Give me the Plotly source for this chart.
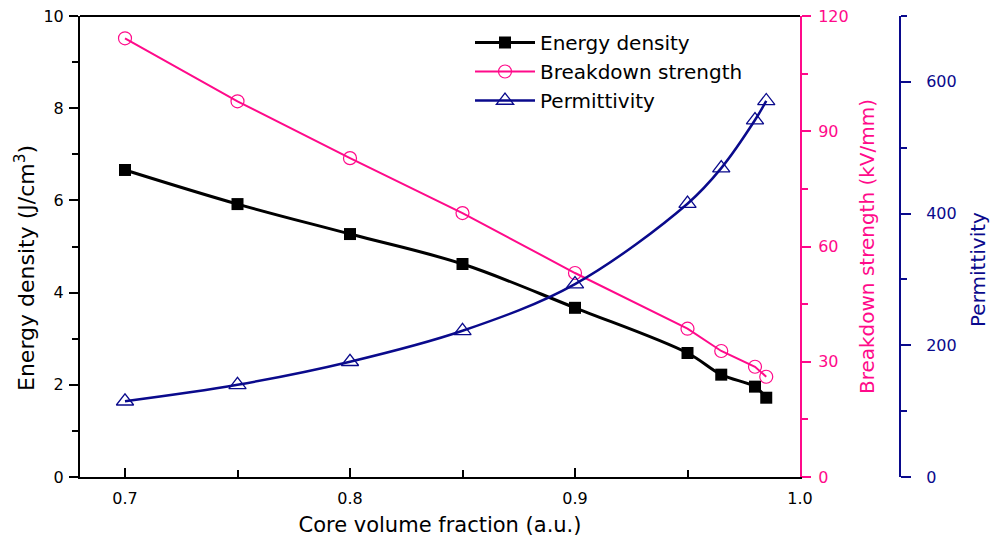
import plotly.graph_objects as go

# Data
core_fraction = [0.7, 0.75, 0.8, 0.85, 0.9, 0.95, 0.965, 0.98, 0.985]
energy_density = [6.66, 5.92, 5.27, 4.62, 3.67, 2.69, 2.22, 1.96, 1.72]
breakdown_strength = [114.2, 97.8, 83.0, 68.7, 53.1, 38.6, 32.8, 28.7, 26.1]
permittivity = [115, 140, 175, 222, 293, 415, 469, 542, 571]

x_ticks = [0.7, 0.8, 0.9, 1.0]
x_ticklabels = ["0.7", "0.8", "0.9", "1.0"]

PINK = "#FF0A8A"
NAVY = "#0A0A8C"
FONT = "DejaVu Sans"

W, H = 994, 552
ML, MR, MT, MB = 80, 94, 16, 75
PW = W - ML - MR
PH = H - MT - MB


def px_to_paper_x(px):
    return (px - ML) / PW


def px_to_paper_y(py):
    return (H - MB - py) / PH


fig = go.Figure()

fig.add_trace(go.Scatter(
    x=core_fraction, y=energy_density, name="Energy density",
    mode="lines+markers", line=dict(color="black", width=3, shape="spline"),
    marker=dict(symbol="square", size=12, color="black"),
    yaxis="y"))

fig.add_trace(go.Scatter(
    x=core_fraction, y=breakdown_strength, name="Breakdown strength",
    mode="lines+markers", line=dict(color=PINK, width=2),
    marker=dict(symbol="circle-open", size=13, color=PINK, line=dict(width=1.2)),
    yaxis="y2"))

fig.add_trace(go.Scatter(
    x=core_fraction, y=permittivity, name="Permittivity",
    mode="lines+markers", line=dict(color=NAVY, width=2.5, shape="spline"),
    marker=dict(symbol="triangle-up-open", size=15, color=NAVY, line=dict(width=1.3)),
    yaxis="y3"))

fig.update_layout(
    width=W, height=H,
    margin=dict(l=ML, r=MR, t=MT, b=MB, autoexpand=False),
    paper_bgcolor="white", plot_bgcolor="white",
    font=dict(family=FONT, size=16, color="black"),
    showlegend=True,
    legend=dict(x=px_to_paper_x(470), y=px_to_paper_y(23), xanchor="left", yanchor="top",
                font=dict(size=20, family=FONT), bgcolor="rgba(0,0,0,0)",
                tracegroupgap=0, itemwidth=60),
    xaxis=dict(
        domain=[0, 720 / PW], range=[0.68, 1.0],
        tickvals=x_ticks, ticktext=x_ticklabels,
        ticks="inside", ticklen=9, tickwidth=1.5, tickcolor="black",
        minor=dict(dtick=0.05, tick0=0.7, ticks="inside", ticklen=7, tickwidth=1.5, tickcolor="black"),
        showline=True, linecolor="black", linewidth=2, mirror=False,
        showgrid=False, zeroline=False,
        ticklabelstandoff=6,
        title=dict(text="Core volume fraction (a.u.)", font=dict(size=21), standoff=10),
    ),
    yaxis=dict(
        range=[0, 10], dtick=2, tick0=0,
        ticks="outside", ticklen=9, tickwidth=1.5, tickcolor="black",
        minor=dict(dtick=1, ticks="outside", ticklen=6, tickwidth=1.5, tickcolor="black"),
        showline=True, linecolor="black", linewidth=2,
        showgrid=False, zeroline=False,
        ticklabelstandoff=2,
    ),
    yaxis2=dict(
        overlaying="y", side="right", anchor="x",
        range=[0, 120], dtick=30, tick0=0,
        ticks="outside", ticklen=9, tickwidth=1.5, tickcolor=PINK,
        minor=dict(dtick=15, ticks="outside", ticklen=6, tickwidth=1.5, tickcolor=PINK),
        showline=True, linecolor=PINK, linewidth=2,
        showgrid=False, zeroline=False,
        tickfont=dict(color=PINK),
        ticklabelstandoff=4,
        title=dict(text="Breakdown strength (kV/mm)", font=dict(size=20, color=PINK), standoff=12),
    ),
    yaxis3=dict(
        overlaying="y", side="right", anchor="free", position=1.0,
        range=[0, 700], dtick=200, tick0=0,
        ticks="outside", ticklen=10, tickwidth=1.5, tickcolor=NAVY,
        minor=dict(dtick=100, ticks="outside", ticklen=6, tickwidth=1.5, tickcolor=NAVY),
        showline=True, linecolor=NAVY, linewidth=2,
        showgrid=False, zeroline=False,
        tickfont=dict(color=NAVY),
        ticklabelstandoff=12,
    ),
)

# axis titles placed as in the reference (offset from axis centre)
fig.add_annotation(text="Energy density (J/cm<sup>3</sup>)", textangle=-90,
                   xref="paper", yref="paper", x=px_to_paper_x(25), y=px_to_paper_y(268),
                   xanchor="center", yanchor="middle", showarrow=False,
                   font=dict(size=22, color="black", family=FONT))
fig.add_annotation(text="Permittivity", textangle=-90,
                   xref="paper", yref="paper", x=px_to_paper_x(978), y=px_to_paper_y(270),
                   xanchor="center", yanchor="middle", showarrow=False,
                   font=dict(size=20, color=NAVY, family=FONT))

# top frame line of the main plot area
fig.add_shape(type="line", xref="x domain", yref="y domain", x0=0, x1=1, y0=1, y1=1,
              line=dict(color="black", width=2))

fig.write_html("out.html")
